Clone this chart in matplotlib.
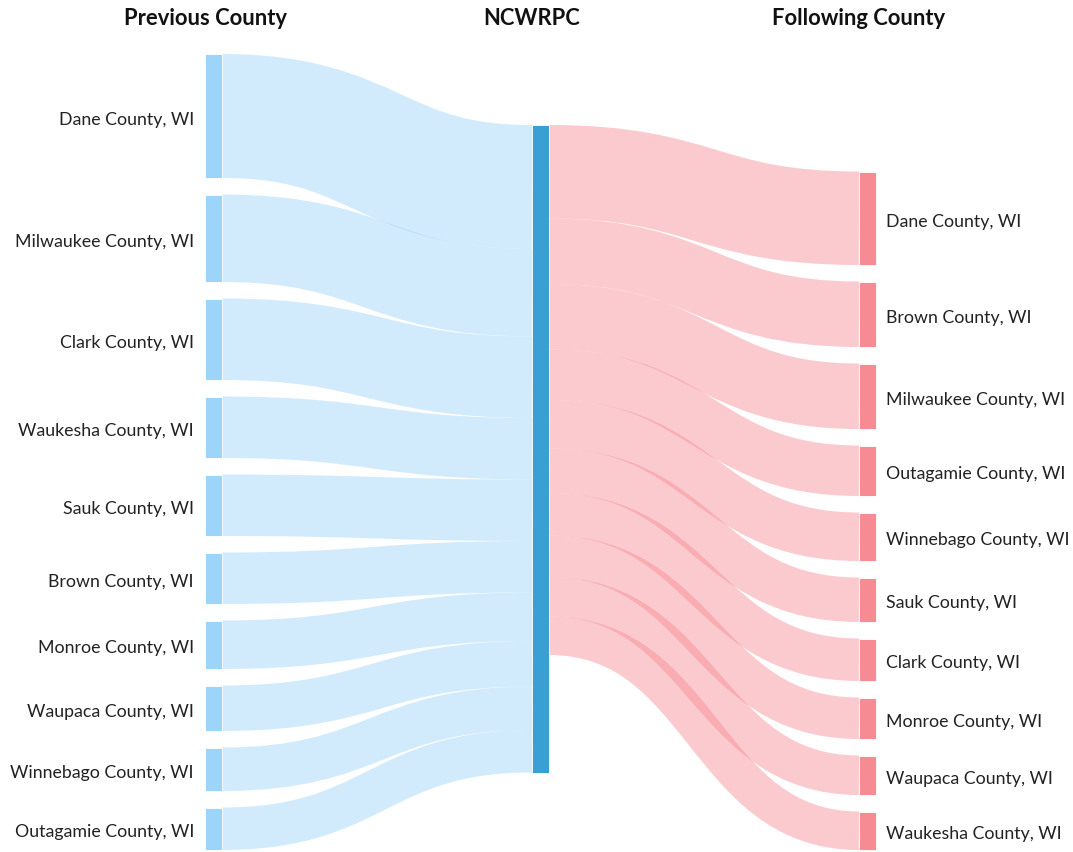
import matplotlib
matplotlib.use('Agg')
import matplotlib.pyplot as plt
from matplotlib.path import Path
from matplotlib.patches import PathPatch, Rectangle

plt.rcParams['font.family'] = ['Lato', 'DejaVu Sans']

# ---- data (flow sizes) ----
headers = ['Previous County', 'NCWRPC', 'Following County']
hub = 'NCWRPC'

prev_counties = ['Dane County, WI', 'Milwaukee County, WI', 'Clark County, WI',
                 'Waukesha County, WI', 'Sauk County, WI', 'Brown County, WI',
                 'Monroe County, WI', 'Waupaca County, WI', 'Winnebago County, WI',
                 'Outagamie County, WI']
prev_values = [124, 87.5, 81.5, 61.5, 61.5, 51.5, 48.5, 45.5, 43.5, 42.5]

next_counties = ['Dane County, WI', 'Brown County, WI', 'Milwaukee County, WI',
                 'Outagamie County, WI', 'Winnebago County, WI', 'Sauk County, WI',
                 'Clark County, WI', 'Monroe County, WI', 'Waupaca County, WI',
                 'Waukesha County, WI']
next_values = [93.5, 65.5, 65.5, 50.5, 48.5, 44.5, 42.5, 41.5, 39.5, 38.5]

# ---- style ----
PREV_COLOR = '#9dd4fa'
HUB_COLOR = '#3aa0d4'
NEXT_COLOR = '#f78b93'
LINK_ALPHA = 0.45
LABEL_SIZE = 12.8
TITLE_SIZE = 15.8

# ---- layout (pixel space) ----
W, H = 1073, 853
DPI = 100
col_x = [205, 532, 859]
node_w = 17
top, bottom = 55, 851
gap = 16.5
ky = 1.0          # pixels per unit of flow
hub_top = 126
text_dy = 2.5     # nudge so labels sit on the node centre visually


def stack(values, y0):
    tops = []
    y = y0
    for v in values:
        tops.append(y)
        y += v * ky + gap
    return tops


prev_tops = stack(prev_values, top)
next_total = sum(next_values) * ky + gap * (len(next_values) - 1)
next_tops = stack(next_values, bottom - next_total)
hub_h = max(sum(prev_values), sum(next_values)) * ky


def draw_link(ax, x0, y0, x1, y1, width, color):
    xm = (x0 + x1) / 2
    path = Path([(x0, y0), (xm, y0), (xm, y1), (x1, y1)],
                [Path.MOVETO, Path.CURVE4, Path.CURVE4, Path.CURVE4])
    ax.add_patch(PathPatch(path, facecolor='none', edgecolor=color,
                           alpha=LINK_ALPHA, lw=width * 72 / DPI,
                           capstyle='butt', zorder=1))


fig = plt.figure(figsize=(W / DPI, H / DPI), dpi=DPI)
ax = fig.add_axes([0, 0, 1, 1])
ax.set_xlim(0, W)
ax.set_ylim(H, 0)
ax.axis('off')

# incoming links
cum = hub_top
for t, v in zip(prev_tops, prev_values):
    h = v * ky
    draw_link(ax, col_x[0] + node_w, t + h / 2, col_x[1], cum + h / 2, h, PREV_COLOR)
    cum += h

# outgoing links
cum = hub_top
for t, v in zip(next_tops, next_values):
    h = v * ky
    draw_link(ax, col_x[1] + node_w, cum + h / 2, col_x[2], t + h / 2, h, NEXT_COLOR)
    cum += h

# nodes and labels
for name, t, v in zip(prev_counties, prev_tops, prev_values):
    ax.add_patch(Rectangle((col_x[0], t), node_w, v * ky, facecolor=PREV_COLOR,
                           edgecolor='white', lw=0.6, zorder=2))
    ax.text(col_x[0] - 11, t + v * ky / 2 + text_dy, name, ha='right', va='center',
            fontsize=LABEL_SIZE, color='#222222', zorder=3)

ax.add_patch(Rectangle((col_x[1], hub_top), node_w, hub_h, facecolor=HUB_COLOR,
                       edgecolor='white', lw=0.6, zorder=2))

for name, t, v in zip(next_counties, next_tops, next_values):
    ax.add_patch(Rectangle((col_x[2], t), node_w, v * ky, facecolor=NEXT_COLOR,
                           edgecolor='white', lw=0.6, zorder=2))
    ax.text(col_x[2] + node_w + 10, t + v * ky / 2 + text_dy, name, ha='left',
            va='center', fontsize=LABEL_SIZE, color='#222222', zorder=3)

for x, label in zip(col_x, headers):
    ax.text(x, 18, label, ha='center', va='center', fontsize=TITLE_SIZE,
            fontweight='bold', color='#111111')

fig.savefig('out.png', dpi=DPI)
